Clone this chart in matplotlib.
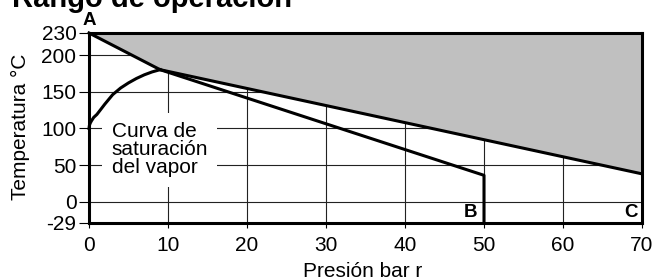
import matplotlib
matplotlib.use('Agg')
import matplotlib.pyplot as plt

plt.rcParams['font.family'] = ['Liberation Sans', 'DejaVu Sans']
plt.rcParams['axes.unicode_minus'] = False

# datos
x_ticks = [0, 10, 20, 30, 40, 50, 60, 70]
y_ticks = [-29, 0, 50, 100, 150, 200, 230]

# límite superior (zona gris por encima)
pres_sup = [0, 9, 70]
temp_sup = [230, 180, 38]

# línea que baja hasta B
pres_b = [9, 50, 50]
temp_b = [180, 36, -29]

# curva de saturación del vapor
pres_sat = [0, 0.05, 0.15, 0.3, 0.6, 1, 1.5, 2, 3, 4, 5, 6, 7, 8, 9]
temp_sat = [100, 104, 107, 110, 115, 119, 126, 133, 146, 155, 162, 168, 173, 177, 180]

fig = plt.figure(figsize=(6.54, 2.80), dpi=100)
ax = fig.add_axes([89 / 654, 1 - 223 / 280, 553 / 654, 190 / 280])

ax.set_xlim(0, 70)
ax.set_ylim(-29, 230)
ax.set_xticks(x_ticks)
ax.set_yticks(y_ticks)
ax.set_axisbelow(True)
ax.grid(True, color='#222222', linewidth=0.8)

# zona gris
ax.fill_between(pres_sup, temp_sup, 230, color='#c0c0c0', zorder=2, linewidth=0)

lw = 2.2
ax.plot(pres_sup, temp_sup, color='black', lw=lw, zorder=3, clip_on=False)
ax.plot(pres_b, temp_b, color='black', lw=lw, zorder=3, clip_on=False)
ax.plot(pres_sat, temp_sat, color='black', lw=lw, zorder=3, clip_on=False,
        solid_joinstyle='round')

for s in ax.spines.values():
    s.set_linewidth(lw)
    s.set_zorder(4)

ax.tick_params(axis='both', labelsize=15, width=0.8, color='black')
ax.tick_params(axis='y', length=7, pad=2)
ax.tick_params(axis='x', length=3.5, pad=6)

# texto de la curva
ax.text(2.85, 71, 'Curva de\nsaturación\ndel vapor', fontsize=15,
        ha='left', va='center', linespacing=0.95, zorder=2.5,
        bbox=dict(boxstyle='square,pad=0.45', fc='white', ec='none'))

# letras A, B, C
ax.text(0, 241, 'A', fontsize=13.5, fontweight='bold', ha='center', va='baseline', clip_on=False)
ax.text(49.1, -26, 'B', fontsize=13.5, fontweight='bold', ha='right', va='bottom')
ax.text(69.4, -26, 'C', fontsize=13.5, fontweight='bold', ha='right', va='bottom')

fig.text(363 / 654, 3 / 280, 'Presión bar r', fontsize=15,
         ha='center', va='baseline')
fig.text(20 / 654, 1 - 127 / 280, 'Temperatura °C', fontsize=15,
         rotation=90, ha='center', va='center')

fig.text(12 / 654, 1 - 7 / 280, 'Rango de operación', fontsize=21,
         fontweight='bold', ha='left', va='baseline')

fig.savefig('out.png', dpi=100)
